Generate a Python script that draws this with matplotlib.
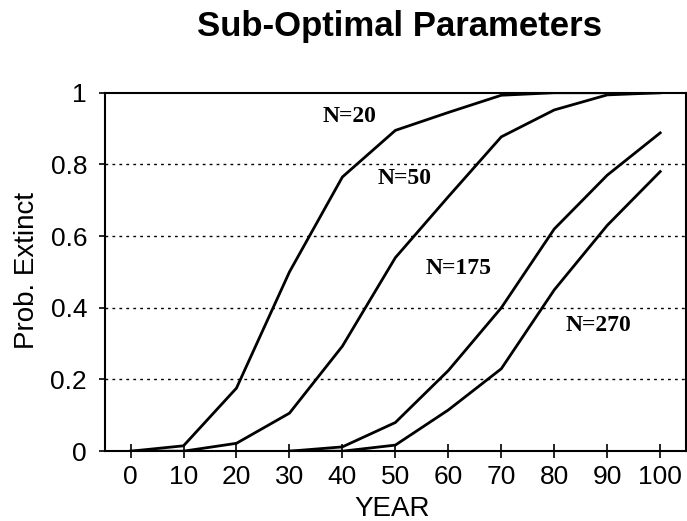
import numpy as np
import matplotlib.pyplot as plt

plt.rcParams['font.family'] = ['Liberation Sans', 'DejaVu Sans']

# ---- data ----
years = [0, 10, 20, 30, 40, 50, 60, 70, 80, 90, 100]
n20 = [0, 0.015, 0.176, 0.50, 0.765, 0.895, 0.945, 0.993, 1.0, 1.0, 1.0]
n50 = [0, 0.0, 0.022, 0.106, 0.293, 0.54, 0.71, 0.877, 0.952, 0.994, 1.0]
years_b = [30, 40, 50, 60, 70, 80, 90, 100]
n175 = [0, 0.012, 0.08, 0.225, 0.40, 0.62, 0.77, 0.888]
n270 = [0, 0.0, 0.017, 0.115, 0.23, 0.45, 0.63, 0.78]

labels = ['N=20', 'N=50', 'N=175', 'N=270']
label_pos = [(36.2, 0.933), (46.6, 0.76), (55.7, 0.511), (82.1, 0.352)]

xticks = [0, 10, 20, 30, 40, 50, 60, 70, 80, 90, 100]
yticks = [0, 0.2, 0.4, 0.6, 0.8, 1.0]
ytick_labels = ['0', '0.2', '0.4', '0.6', '0.8', '1']

fig = plt.figure(figsize=(6.87, 5.21), dpi=100)
ax = fig.add_axes([0.153, 0.134, 0.845, 0.688])

for yy in yticks[1:-1]:
    ax.axhline(yy, color='black', linestyle=(0, (2, 3)), linewidth=1.0, zorder=1)

ax.plot(years, n20, color='black', linewidth=2)
ax.plot(years, n50, color='black', linewidth=2)
ax.plot(years_b, n175, color='black', linewidth=2)
ax.plot(years_b, n270, color='black', linewidth=2)

for lab, (lx, ly) in zip(labels, label_pos):
    ax.text(lx, ly, lab, family='Liberation Serif', fontweight='bold',
            fontsize=17, ha='left', va='center')

ax.set_xlim(-4.8, 104.8)
ax.set_ylim(0, 1)
ax.set_xticks(xticks)
ax.set_yticks(yticks)
ax.set_yticklabels(ytick_labels)
ax.tick_params(axis='x', direction='inout', length=10, width=1.2, labelsize=19, pad=5)
ax.tick_params(axis='y', direction='out', length=4, width=1.2, labelsize=19, pad=9)
for s in ax.spines.values():
    s.set_linewidth(1.5)

ax.set_xlabel('YEAR', fontsize=20, va='top')
ax.xaxis.set_label_coords(0.494, -0.126)
ax.set_ylabel('Prob. Extinct', fontsize=20)
ax.yaxis.set_label_coords(-0.113, 0.503)
fig.text(0.581, 0.93, 'Sub-Optimal Parameters', fontsize=25, fontweight='bold',
         ha='center', va='baseline')

fig.savefig('out.png', dpi=100)
